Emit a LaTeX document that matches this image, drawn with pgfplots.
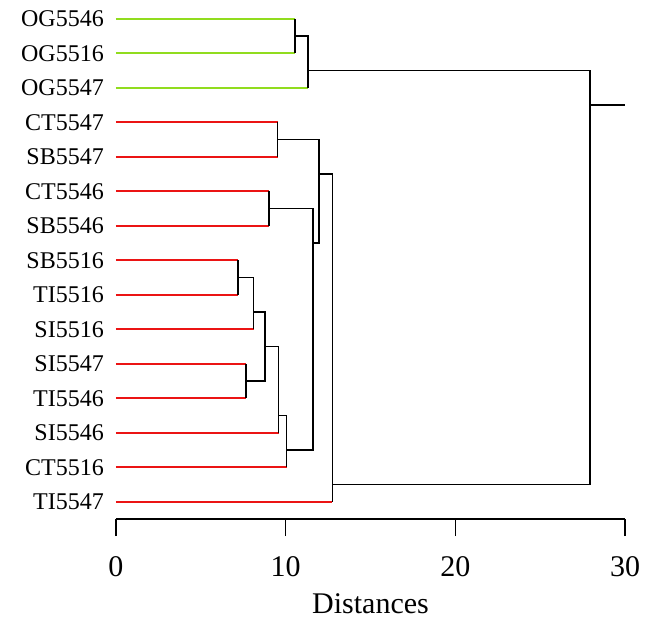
\documentclass[border=0pt]{standalone}
\usepackage{fontspec}
\setmainfont{Liberation Serif}
\usepackage{pgfplots}
\pgfplotsset{compat=1.18}
\definecolor{leafgreen}{RGB}{145,220,30}
\definecolor{leafred}{RGB}{235,20,20}

\begin{document}
\begin{tikzpicture}
\useasboundingbox (-116bp,-101bp) rectangle (532bp,519bp);
\begin{axis}[
    at={(0bp,0bp)}, anchor=south west,
    width=509bp, height=517.5bp, scale only axis,
    xmin=0, xmax=30, ymin=0.5, ymax=15.5,
    axis x line*=bottom, axis y line*=left,
    y axis line style={draw=none},
    x axis line style={line width=1.6bp, black},
    xtick={0,10,20,30},
    ytick={1,...,15},
    yticklabels={TI5547,CT5516,SI5546,TI5546,SI5547,SI5516,TI5516,SB5516,
                 SB5546,CT5546,SB5547,CT5547,OG5547,OG5516,OG5546},
    ytick style={draw=none},
    xtick style={line width=1.6bp, black},
    tick align=outside, major tick length=17bp,
    /pgf/number format/assume math mode=true,
    xticklabel style={font=\fontsize{30bp}{36bp}\selectfont, anchor=north, inner sep=0pt, yshift=-20bp},
    yticklabel style={font=\fontsize{24bp}{29bp}\selectfont, anchor=east, inner sep=0pt, xshift=5bp},
    xlabel={Distances},
    xlabel style={font=\fontsize{30bp}{36bp}\selectfont, at={(axis description cs:0.5,0)},
                  anchor=north, inner sep=0pt, yshift=-74bp},
    unbounded coords=jump,
    clip=false
]

% leaf branches, OG group
\addplot[leafgreen, line width=1.8bp, mark=none] table {
x     y
0     15
10.55 15
nan   nan
0     14
10.55 14
nan   nan
0     13
11.3  13
};

% leaf branches, other samples
\addplot[leafred, line width=1.8bp, mark=none] table {
x     y
0     12
9.52  12
nan   nan
0     11
9.52  11
nan   nan
0     10
9.03  10
nan   nan
0     9
9.03  9
nan   nan
0     8
7.19  8
nan   nan
0     7
7.19  7
nan   nan
0     6
8.11  6
nan   nan
0     5
7.64  5
nan   nan
0     4
7.64  4
nan   nan
0     3
9.58  3
nan   nan
0     2
10.05 2
nan   nan
0     1
12.76 1
};

% joins
\addplot[black, line width=1.8bp, mark=none] table {
x     y
10.55 15
10.55 14
nan   nan
10.55 14.5
11.3  14.5
11.3  13
nan   nan
11.3  13.5
27.93 13.5
27.93 1.5
12.76 1.5
nan   nan
27.93 12.5
30    12.5
nan   nan
9.52  12
9.52  11
nan   nan
9.52  11.5
11.98 11.5
11.98 8.5
11.63 8.5
nan   nan
11.98 10.5
12.76 10.5
12.76 1
nan   nan
9.03  10
9.03  9
nan   nan
9.03  9.5
11.63 9.5
11.63 2.5
10.05 2.5
nan   nan
9.58  3.5
10.05 3.5
10.05 2
nan   nan
8.78  5.5
9.58  5.5
9.58  3
nan   nan
8.11  6.5
8.78  6.5
8.78  4.5
7.64  4.5
nan   nan
7.64  5
7.64  4
nan   nan
7.19  7.5
8.11  7.5
8.11  6
nan   nan
7.19  8
7.19  7
};

\end{axis}
\end{tikzpicture}
\end{document}
